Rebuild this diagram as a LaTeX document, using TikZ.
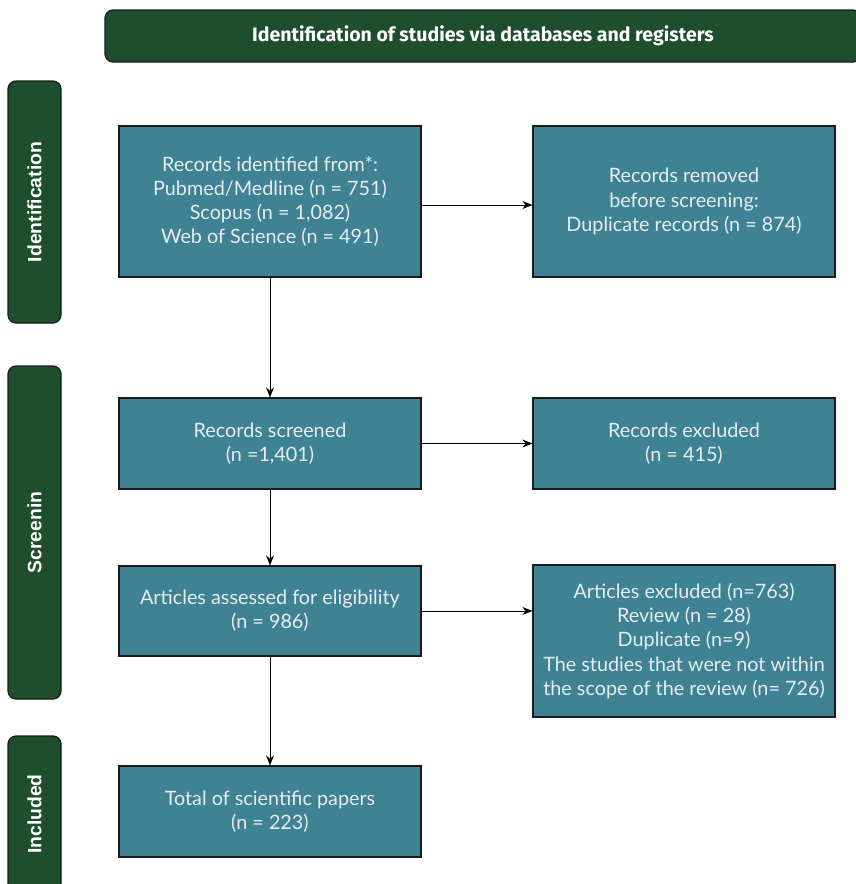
\documentclass[tikz,border=0pt]{standalone}
\usepackage{fontspec}
\setmainfont{Lato}
\newfontfamily\sidefont{Liberation Sans}
\newfontfamily\headfont{Fira Sans}
\usetikzlibrary{arrows.meta}
\definecolor{pgreen}{HTML}{1F4E2D}
\definecolor{pteal}{HTML}{3E8294}
\definecolor{ptext}{HTML}{E6EEF0}
\definecolor{pedge}{HTML}{1A1A1A}
\tikzset{
  box/.style={draw=pedge, line width=1.2pt, fill=pteal, text=ptext, minimum width=302pt, inner sep=0pt, align=center, font=\fontsize{19.8}{24.2}\selectfont},
  sidebox/.style={draw=pedge, line width=1.2pt, fill=pgreen, rounded corners=8pt, minimum width=53pt, inner sep=0pt},
  sidelabel/.style={text=white, rotate=90, font=\sidefont\bfseries\fontsize{19.3}{22}\selectfont},
  conn/.style={draw=black, line width=1pt, -{Stealth[length=10pt,width=8pt]}}
}
\begin{document}
\begin{tikzpicture}[x=1pt,y=-1pt]
\useasboundingbox (0,0) rectangle (856,884);
\clip (0,0) rectangle (856,884);
% header
\node[draw=pedge, line width=1.2pt, fill=pgreen, rounded corners=8pt, minimum width=756pt, minimum height=52pt, inner sep=0pt, text=white, font=\headfont\bfseries\fontsize{19.5}{22}\selectfont] (head) at (483,36) {Identification of studies via databases and registers};
% side panels
\node[sidebox, minimum height=242pt] (sid) at (34.5,202) {};
\node[sidelabel] (lid) at (sid.center) {Identification};
\node[sidebox, minimum height=333pt] (sscr) at (34.5,532.5) {};
\node[sidelabel] (lscr) at (sscr.center) {Screenin};
\node[sidebox, minimum height=156pt] (sinc) at (34.5,814) {};
\node[sidelabel] (linc) at (sinc.center) {Included};
% boxes
\node[box, minimum height=151pt] (b1) at (270,201.5) {Records identified from*:\\Pubmed/Medline (n = 751)\\Scopus (n = 1,082)\\Web of Science (n = 491)};
\node[box, minimum height=151pt] (b2) at (684,201.5) {Records removed\\before screening:\\Duplicate records (n = 874)};
\node[box, minimum height=91pt] (b3) at (270,443.5) {Records screened\\(n =1,401)};
\node[box, minimum height=91pt] (b4) at (684,443.5) {Records excluded\\(n = 415)};
\node[box, minimum height=90pt] (b5) at (270,611) {Articles assessed for eligibility\\(n = 986)};
\node[box, minimum height=152pt] (b6) at (684,641) {Articles excluded (n=763)\\Review (n = 28)\\Duplicate (n=9)\\The studies that were not within\\the scope of the review (n= 726)};
\node[box, minimum height=91pt] (b7) at (270,811.5) {Total of scientific papers\\(n = 223)};
% connectors
\draw[conn] ([yshift=-3.5pt]b1.east) -- ([yshift=-3.5pt]b2.west);
\draw[conn] (b1.south) -- (b3.north);
\draw[conn] (b3.east) -- (b4.west);
\draw[conn] (b3.south) -- (b5.north);
\draw[conn] (b5.east) -- (b5.east -| b6.west);
\draw[conn] (b5.south) -- (b7.north);
\end{tikzpicture}
\end{document}
